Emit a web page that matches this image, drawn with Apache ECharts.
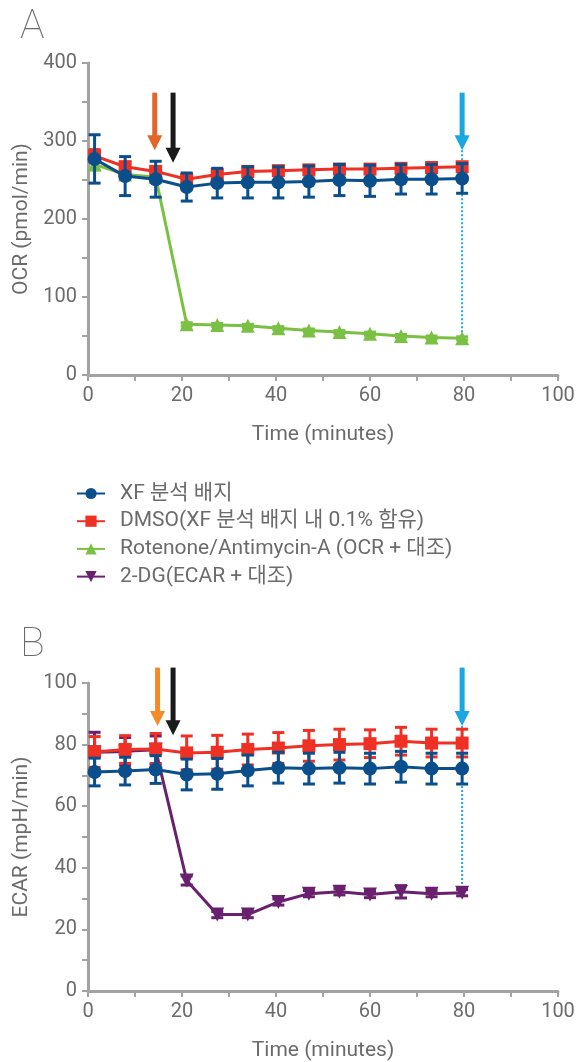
<!DOCTYPE html>
<html><head><meta charset="utf-8">
<script src="https://cdn.jsdelivr.net/npm/echarts@6/dist/echarts.min.js"></script>
<style>html,body{margin:0;padding:0;background:#fff}#c{width:587px;height:1062px}</style>
</head><body><div id="c"></div>
<script>
// ---- data ----
const times = [1.4, 7.9, 14.4, 21.0, 27.5, 34.0, 40.5, 47.0, 53.5, 60.0, 66.6, 73.1, 79.6];
const seriesNames = ['XF 분석 배지', 'DMSO(XF 분석 배지 내 0.1% 함유)', 'Rotenone/Antimycin-A (OCR + 대조)', '2-DG(ECAR + 대조)'];
// OCR (panel A)
const ocrXF = [277, 255, 251, 241, 246, 247, 247, 248, 250, 249, 251, 251, 252];
const ocrXFErr = [31, 25, 23, 18, 19, 20, 20, 20, 20, 20, 19, 19, 19];
const ocrDMSO = [281, 267, 261, 251, 257, 261, 262, 263, 264, 264, 265, 266, 267];
const ocrDMSOErr = [8, 6, 6, 5, 5, 5, 5, 5, 5, 5, 5, 5, 5];
const ocrRotAA = [270, 257, 254, 65, 64, 63, 60, 57, 55, 53, 50, 48, 47];
const ocrRotAAErr = [7, 5, 5, 2, 2, 2, 2, 2, 2, 2, 2, 2, 2];
// ECAR (panel B)
const ecarXF = [71.1, 71.4, 71.9, 70.3, 70.5, 71.6, 72.5, 72.2, 72.5, 72.2, 72.8, 72.2, 72.2];
const ecarXFErr = [4.5, 4.5, 4.5, 5, 5, 5, 5, 5, 5, 5, 5, 5, 5];
const ecarDMSO = [77.6, 78.4, 78.6, 77.3, 77.5, 78.4, 78.9, 79.6, 80.0, 80.3, 81.1, 80.5, 80.5];
const ecarDMSOErr = [5, 4.5, 5, 5.5, 5.5, 5, 5, 5, 5, 4.5, 4.5, 4.5, 4.5];
const ecar2DG = [77.5, 77.8, 78.3, 35.9, 24.8, 24.8, 28.9, 31.6, 32.2, 31.3, 32.2, 31.6, 31.9];
const ecar2DGErr = [6.5, 4.5, 4.5, 1.5, 1, 1, 1, 1, 1, 1, 2, 1, 1];
// injection arrows: [x, yStart, yEnd]
const arrowsA = [[14.2, 362, 288], [18.1, 362, 272], [79.6, 362, 288]];
const arrowsB = [[14.8, 105, 86], [18.1, 105, 83], [79.6, 105, 86]];
const dottedA = [79.6, 288, 47];
const dottedB = [79.6, 86, 31.9];
const xTicks = [0, 20, 40, 60, 80, 100];

// ---- styles ----
const FONT = 'Roboto, "Noto Sans CJK KR", sans-serif';
const TXT = '#6b6b6b';
const AX = '#a3a3a3';
const C_BLUE = '#0a4f8c', C_RED = '#ee3124', C_GREEN = '#7ac143', C_PURPLE = '#69206e';
const ARROW_COLORS_A = ['#e2652a', '#1a1a1a', '#1aa6e2'];
const ARROW_COLORS_B = ['#f58a29', '#1a1a1a', '#1aa6e2'];

const pairs = (v) => times.map((t, i) => [t, v[i]]);
const errData = (v, e) => times.map((t, i) => [t, v[i] - e[i], v[i] + e[i]]);

function errSeries(name, v, e, color, xi, z) {
  return {
    type: 'custom', name: name + ' (err)', xAxisIndex: xi, yAxisIndex: xi, z: z, silent: true,
    data: errData(v, e),
    renderItem: function (params, api) {
      const x = api.value(0);
      const lo = api.coord([x, api.value(1)]);
      const hi = api.coord([x, api.value(2)]);
      const w = 6;
      const st = { stroke: color, lineWidth: 3 };
      return { type: 'group', children: [
        { type: 'line', shape: { x1: lo[0], y1: lo[1], x2: hi[0], y2: hi[1] }, style: st },
        { type: 'line', shape: { x1: lo[0] - w, y1: lo[1], x2: lo[0] + w, y2: lo[1] }, style: st },
        { type: 'line', shape: { x1: hi[0] - w, y1: hi[1], x2: hi[0] + w, y2: hi[1] }, style: st }
      ]};
    }
  };
}
function lineSeries(name, v, color, symbol, size, xi, z) {
  return {
    type: 'line', name: name, xAxisIndex: xi, yAxisIndex: xi, z: z,
    data: pairs(v), symbol: symbol, symbolSize: size, showSymbol: true,
    lineStyle: { color: color, width: 3 }, itemStyle: { color: color },
    emphasis: { disabled: true }, animation: false
  };
}
function xAxis(gi) {
  return {
    type: 'value', gridIndex: gi, min: 0, max: 100, interval: 10,
    name: 'Time (minutes)', nameLocation: 'middle', nameGap: 49,
    nameTextStyle: { color: TXT, fontSize: 21, fontFamily: FONT },
    axisLine: { show: true, lineStyle: { color: AX, width: 3 } },
    axisTick: { show: true, length: 6, lineStyle: { color: AX, width: 2 } },
    axisLabel: { color: TXT, fontSize: 20, fontFamily: FONT, margin: 11,
      formatter: v => (xTicks.indexOf(v) >= 0 ? String(v) : '') },
    splitLine: { show: false }
  };
}
function yAxis(gi, name, max, interval, labelStep) {
  return {
    type: 'value', gridIndex: gi, min: 0, max: max, interval: interval,
    name: name, nameLocation: 'middle', nameGap: 55,
    nameTextStyle: { color: TXT, fontSize: 21, fontFamily: FONT },
    axisLine: { show: true, lineStyle: { color: AX, width: 3 } },
    axisTick: { show: true, length: 6, lineStyle: { color: AX, width: 2 } },
    axisLabel: { color: TXT, fontSize: 20, fontFamily: FONT, margin: 11,
      formatter: v => (v % labelStep === 0 ? String(v) : '') },
    splitLine: { show: false }
  };
}

const chart = echarts.init(document.getElementById('c'), null, { renderer: 'canvas' });
chart.setOption({
  animation: false,
  backgroundColor: '#fff',
  textStyle: { fontFamily: FONT },
  title: [
    { text: 'A', left: 15, top: 2, textStyle: { fontSize: 41, fontWeight: 'lighter', color: TXT, fontFamily: FONT } },
    { text: 'B', left: 15, top: 620, textStyle: { fontSize: 41, fontWeight: 'lighter', color: TXT, fontFamily: FONT } }
  ],
  legend: {
    orient: 'vertical', left: 71, top: 478, itemWidth: 28, itemHeight: 14, itemGap: 6.7,
    data: seriesNames,
    textStyle: { color: TXT, fontSize: 21, fontFamily: FONT, padding: [0, 0, 0, 10], lineHeight: 21 },
    selectedMode: false
  },
  grid: [
    { left: 88, right: 29, top: 63, height: 312 },
    { left: 88, right: 29, top: 683, height: 310 }
  ],
  xAxis: [xAxis(0), xAxis(1)],
  yAxis: [yAxis(0, 'OCR (pmol/min)', 400, 50, 100), yAxis(1, 'ECAR (mpH/min)', 100, 10, 20)],
  series: [
    lineSeries(seriesNames[2], ocrRotAA, C_GREEN, 'triangle', 14, 0, 2),
    errSeries(seriesNames[2], ocrRotAA, ocrRotAAErr, C_GREEN, 0, 2),
    errSeries(seriesNames[1], ocrDMSO, ocrDMSOErr, C_RED, 0, 3),
    lineSeries(seriesNames[1], ocrDMSO, C_RED, 'rect', 13, 0, 3),
    errSeries(seriesNames[0], ocrXF, ocrXFErr, C_BLUE, 0, 4),
    lineSeries(seriesNames[0], ocrXF, C_BLUE, 'circle', 14, 0, 4),

    errSeries(seriesNames[3], ecar2DG, ecar2DGErr, C_PURPLE, 1, 2),
    lineSeries(seriesNames[3], ecar2DG, C_PURPLE, 'path://M0,0 L10,0 L5,9 Z', 14, 1, 2),
    errSeries(seriesNames[1], ecarDMSO, ecarDMSOErr, C_RED, 1, 3),
    lineSeries(seriesNames[1], ecarDMSO, C_RED, 'rect', 13, 1, 3),
    errSeries(seriesNames[0], ecarXF, ecarXFErr, C_BLUE, 1, 4),
    lineSeries(seriesNames[0], ecarXF, C_BLUE, 'circle', 14, 1, 4)
  ]
});

function buildArrows(gi, arrows, colors, dotted) {
  const out = [];
  const conv = p => chart.convertToPixel({ xAxisIndex: gi, yAxisIndex: gi }, p);
  const d0 = conv([dotted[0], dotted[1]]), d1 = conv([dotted[0], dotted[2]]);
  out.push({ type: 'line', z: 1, shape: { x1: d0[0], y1: d0[1], x2: d1[0], y2: d1[1] },
    style: { stroke: '#1aa6e2', lineWidth: 2, lineDash: [2, 2] } });
  arrows.forEach((a, i) => {
    const s = conv([a[0], a[1]]), e = conv([a[0], a[2]]);
    const head = 15, hw = 7.5;
    out.push({ type: 'line', z: 10, shape: { x1: s[0], y1: s[1], x2: e[0], y2: e[1] - head + 2 },
      style: { stroke: colors[i], lineWidth: 5 } });
    out.push({ type: 'polygon', z: 10, shape: { points: [[e[0] - hw, e[1] - head], [e[0] + hw, e[1] - head], [e[0], e[1]]] },
      style: { fill: colors[i] } });
  });
  return out;
}
chart.setOption({ graphic: buildArrows(0, arrowsA, ARROW_COLORS_A, dottedA).concat(buildArrows(1, arrowsB, ARROW_COLORS_B, dottedB)) });
</script></body></html>
